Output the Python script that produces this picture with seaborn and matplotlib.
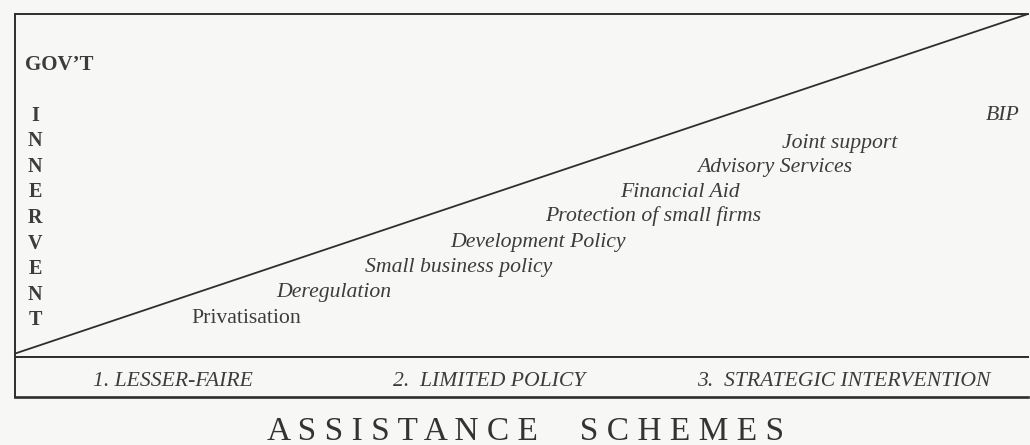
import matplotlib
matplotlib.use("Agg")
import matplotlib.pyplot as plt
import seaborn as sns
import pandas as pd

# assistance schemes, placed by breadth of assistance (x, 0-100) and gov't intervention (y, 0-100)
schemes = ["Privatisation", "Deregulation", "Small business policy", "Development Policy",
           "Protection of small firms", "Financial Aid", "Advisory Services", "Joint support", "BIP"]
scheme_x = [17.4, 25.8, 34.6, 43.0, 52.3, 59.7, 67.3, 75.7, 95.8]
scheme_y = [12.0, 19.5, 26.8, 34.1, 41.7, 48.7, 56.0, 63.0, 71.1]

# intervention frontier
trend_x = [0, 100]
trend_y = [1, 100]

# policy stages along the bottom band
stages = ["1. LESSER-FAIRE", "2.  LIMITED POLICY", "3.  STRATEGIC INTERVENTION"]
stage_x = [7.7, 37.3, 67.3]

y_head = "GOV\u2019T"
y_word = "INNERVENT"
x_title = "ASSISTANCE SCHEMES"

sns.set_theme(style="white")
plt.rcParams["font.family"] = ["Liberation Serif", "DejaVu Serif"]

W, H = 1030, 445
paper = "#f7f7f6"
ink = "#3c3c3c"
line = "#2e2e2e"

fig = plt.figure(figsize=(W / 100, H / 100), dpi=100, facecolor=paper)

# main panel: px 15..1028 wide, 14..357 tall
ax = fig.add_axes([15 / W, (H - 357) / H, (1028 - 15) / W, (357 - 14) / H])
ax.set_facecolor(paper)
ax.set_xlim(0, 100)
ax.set_ylim(0, 100)

df = pd.DataFrame({"x": trend_x, "y": trend_y})
sns.lineplot(data=df, x="x", y="y", ax=ax, color=line, linewidth=1.3)

for name, x, y in zip(schemes, scheme_x, scheme_y):
    style = "normal" if name == "Privatisation" else "italic"
    ax.text(x, y, name, ha="left", va="center_baseline", fontsize=15.7,
            fontstyle=style, color=ink)

ax.text(1.0, 86.0, y_head, ha="left", va="center_baseline", fontsize=15,
        fontweight="bold", color=ink)
for i, ch in enumerate(y_word):
    ax.text(2.0, 71.1 - i * 7.46, ch, ha="center", va="center_baseline",
            fontsize=14.5, fontweight="bold", color=ink)

ax.set_xticks([])
ax.set_yticks([])
ax.set_xlabel("")
ax.set_ylabel("")
for side in ["left", "top", "bottom"]:
    ax.spines[side].set_color(line)
    ax.spines[side].set_linewidth(1.4)
ax.spines["right"].set_visible(False)

# bottom band with the three stages: px 357..397
band = fig.add_axes([15 / W, (H - 397) / H, (1028 - 15) / W, 40 / H])
band.set_facecolor(paper)
band.set_xlim(0, 100)
band.set_ylim(0, 1)
for name, x in zip(stages, stage_x):
    band.text(x, 0.45, name, ha="left", va="center_baseline", fontsize=15.6,
              fontstyle="italic", color=ink)
band.set_xticks([])
band.set_yticks([])
for side in ["left", "top", "bottom"]:
    band.spines[side].set_color(line)
    band.spines[side].set_linewidth(1.4)
band.spines["bottom"].set_linewidth(1.9)
band.spines["right"].set_visible(False)

fig.text(526 / W, (H - 428) / H, " ".join(x_title).replace("   ", "     "),
         ha="center", va="center_baseline", fontsize=24, color="#333333")

fig.savefig("out.png", dpi=100, facecolor=paper)
